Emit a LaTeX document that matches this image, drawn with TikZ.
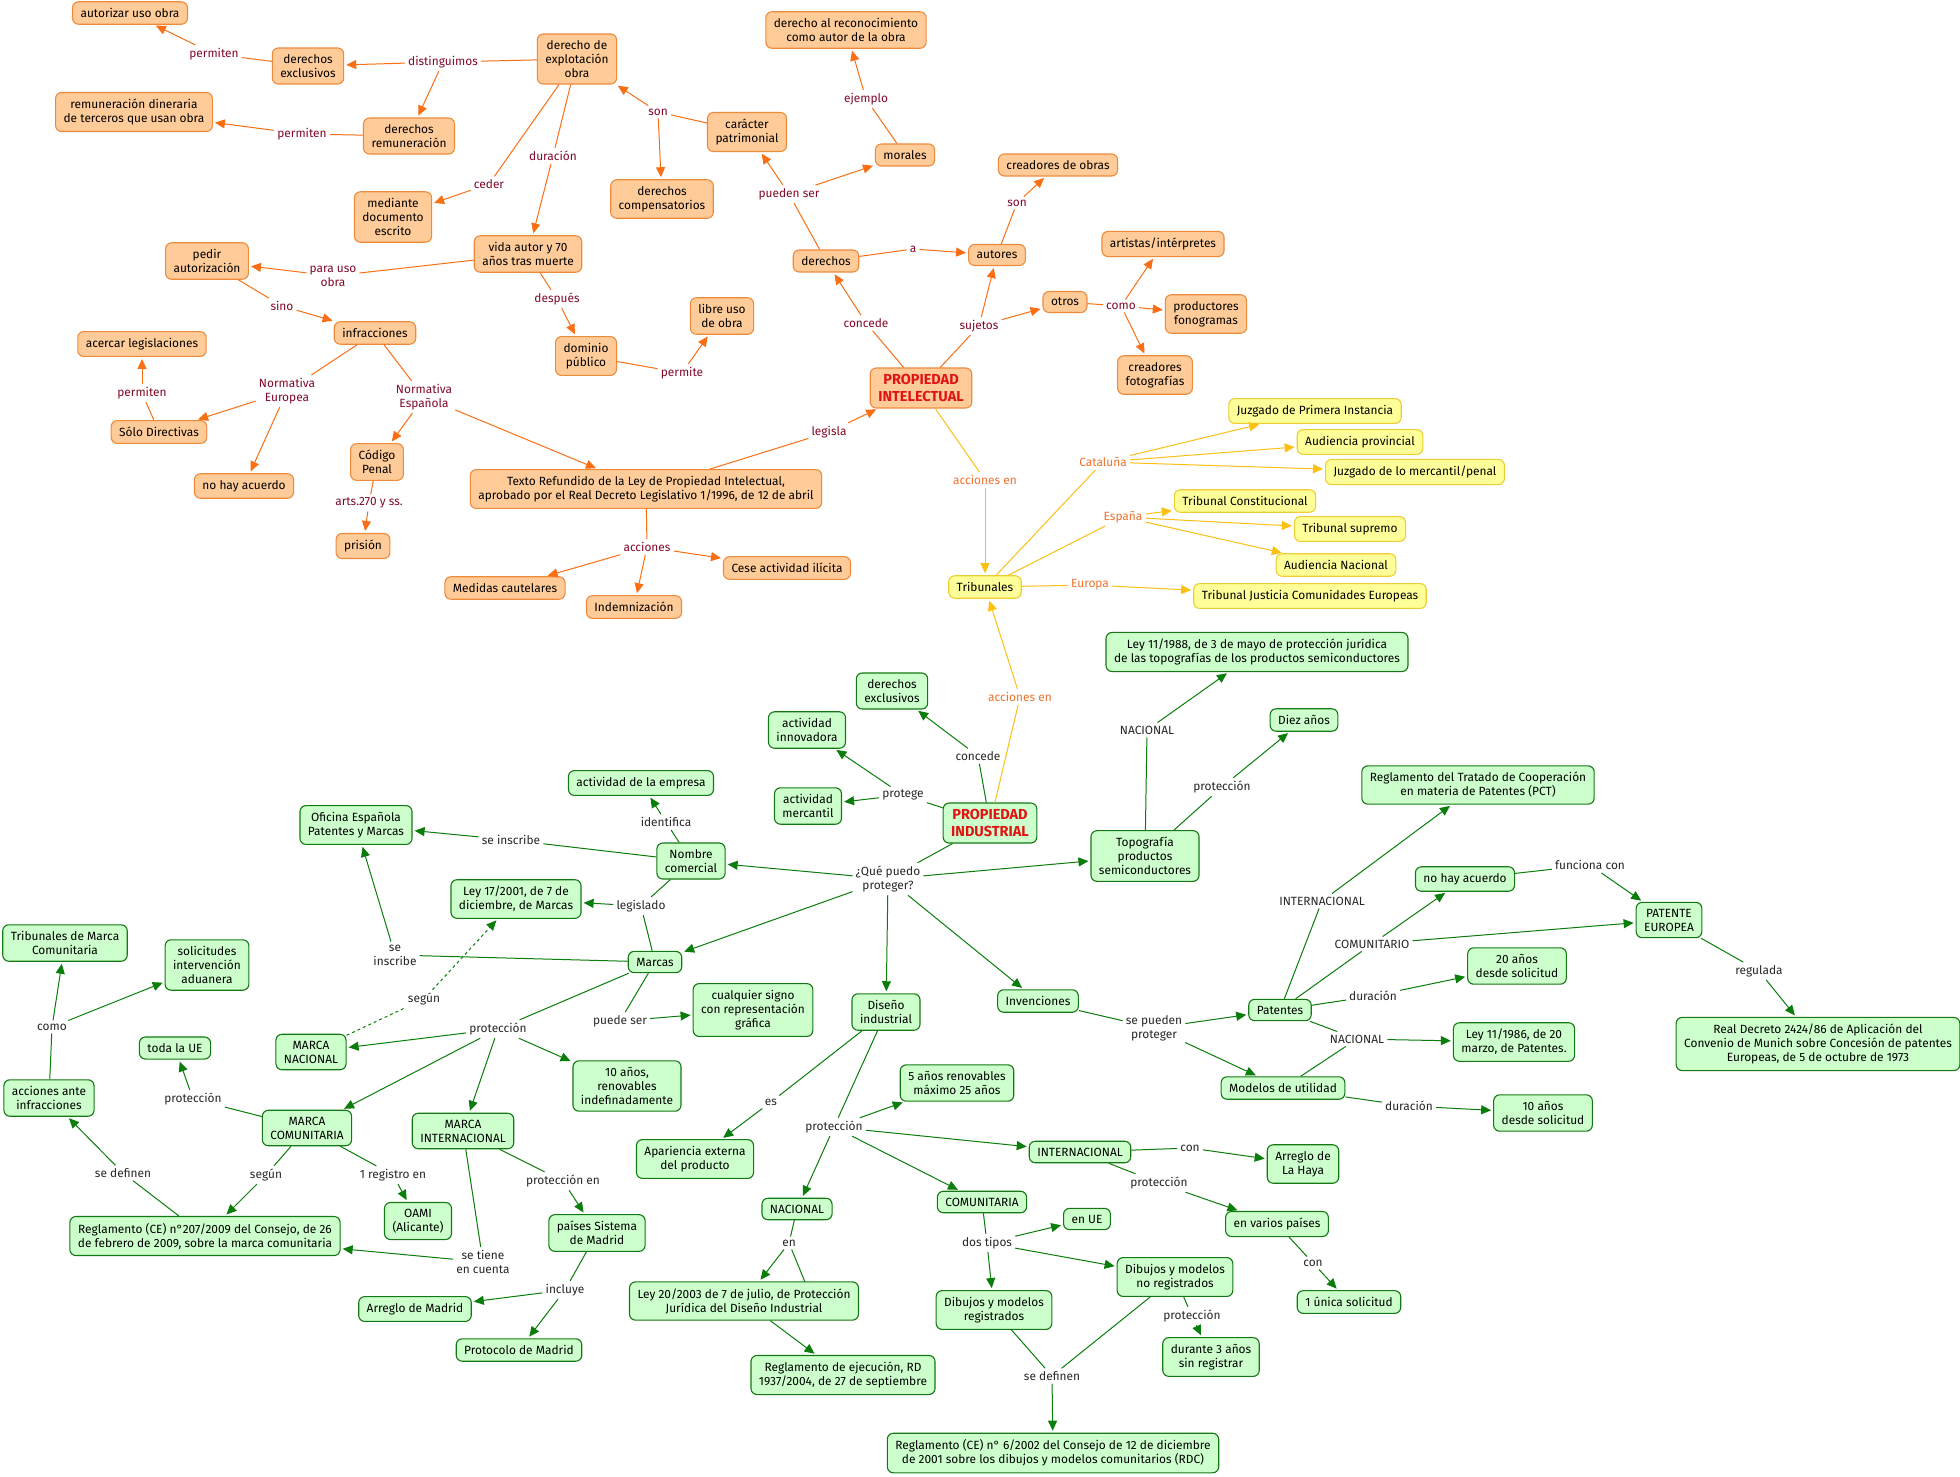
\documentclass[tikz,border=0pt]{standalone}
\usepackage{fontspec}
\setmainfont{Fira Sans}
\usetikzlibrary{arrows.meta}
\definecolor{ofill}{RGB}{255,204,153}
\definecolor{odraw}{RGB}{238,138,60}
\definecolor{oarrow}{RGB}{250,110,20}
\definecolor{otext}{RGB}{130,10,40}
\definecolor{yfill}{RGB}{255,255,153}
\definecolor{ydraw}{RGB}{238,205,50}
\definecolor{yarrow}{RGB}{252,192,20}
\definecolor{ytext}{RGB}{238,115,45}
\definecolor{gfill}{RGB}{204,255,204}
\definecolor{gdraw}{RGB}{20,120,20}
\definecolor{garrow}{RGB}{10,125,10}
\definecolor{gtext}{RGB}{40,40,40}
\definecolor{ptitle}{RGB}{225,20,20}
\tikzset{
  box/.style={rounded corners=6pt,align=center,inner xsep=8pt,inner ysep=6.5pt,line width=1.1pt,font=\fontsize{11.9}{14}\selectfont},
  obox/.style={box,draw=odraw,fill=ofill},
  ybox/.style={box,draw=ydraw,fill=yfill},
  gbox/.style={box,draw=gdraw,fill=gfill},
  ptit/.style={font=\fontsize{14.5}{16.5}\selectfont\bfseries,text=ptitle},
  lab/.style={inner sep=3pt,align=center,font=\fontsize{11.9}{14}\selectfont},
  olab/.style={lab,text=otext},
  ylab/.style={lab,text=ytext},
  glab/.style={lab,text=gtext},
  oline/.style={draw=oarrow,line width=1pt},
  yline/.style={draw=yarrow,line width=1pt},
  gline/.style={draw=garrow,line width=1pt},
  oarr/.style={oline,-{Triangle[length=10pt,width=9pt]},shorten >=2pt},
  yarr/.style={yline,-{Triangle[length=10pt,width=9pt]},shorten >=2pt},
  garr/.style={gline,-{Triangle[length=10pt,width=9pt]},shorten >=2pt}
}

\begin{document}
\begin{tikzpicture}[x=1pt,y=-1pt]
  \fill[white] (0,0) rectangle (1960,1476);
  \useasboundingbox (0,0) rectangle (1960,1476);

  % propiedad intelectual
  \node[obox] (autuso) at (130,13) {autorizar uso obra};
  \node[obox] (oderexc) at (308,66) {derechos\\exclusivos};
  \node[obox] (remun) at (134,112) {remuneración dineraria\\de terceros que usan obra};
  \node[obox] (derrem) at (409,136) {derechos\\remuneración};
  \node[obox] (explot) at (577,59) {derecho de\\explotación\\obra};
  \node[obox] (reconoc) at (846,30) {derecho al reconocimiento\\como autor de la obra};
  \node[obox] (patrim) at (747,132) {carácter\\patrimonial};
  \node[obox] (morales) at (905,155) {morales};
  \node[obox] (compens) at (662,199) {derechos\\compensatorios};
  \node[obox] (docesc) at (393,217) {mediante\\documento\\escrito};
  \node[obox] (vida) at (528,254) {vida autor y 70\\años tras muerte};
  \node[obox] (pedir) at (207,261) {pedir\\autorización};
  \node[obox] (derechos) at (826,261) {derechos};
  \node[obox] (autores) at (997,255) {autores};
  \node[obox] (creaobras) at (1058,165) {creadores de obras};
  \node[obox] (artistas) at (1163,244) {artistas/intérpretes};
  \node[obox] (otros) at (1065,302) {otros};
  \node[obox] (fonog) at (1206,314) {productores\\fonogramas};
  \node[obox] (fotog) at (1155,375) {creadores\\fotografías};
  \node[obox] (libre) at (722,316) {libre uso\\de obra};
  \node[obox] (dominio) at (586,356) {dominio\\público};
  \node[obox] (infrac) at (375,333) {infracciones};
  \node[obox] (acercar) at (142,344) {acercar legislaciones};
  \node[obox,ptit] (pintel) at (921,388) {PROPIEDAD\\INTELECTUAL};
  \node[obox] (soloDir) at (159,432) {Sólo Directivas};
  \node[obox] (onohay) at (244,486) {no hay acuerdo};
  \node[obox] (codpenal) at (377,462) {Código\\Penal};
  \node[obox] (texto) at (646,489) {Texto Refundido de la Ley de Propiedad Intelectual,\\aprobado por el Real Decreto Legislativo 1/1996, de 12 de abril};
  \node[obox] (prision) at (363,546) {prisión};
  \node[obox] (medidas) at (505,588) {Medidas cautelares};
  \node[obox] (indem) at (634,607) {Indemnización};
  \node[obox] (cese) at (787,568) {Cese actividad ilícita};

  \node[olab] (l1) at (214,54) {permiten};
  \node[olab] (l2) at (443,62) {distinguimos};
  \node[olab] (l3) at (302,134) {permiten};
  \node[olab] (l4) at (489,184) {ceder};
  \node[olab] (l5) at (553,156) {duración};
  \node[olab] (l6) at (658,112) {son};
  \node[olab] (l7) at (866,99) {ejemplo};
  \node[olab] (l8) at (789,194) {pueden ser};
  \node[olab] (l9) at (913,249) {a};
  \node[olab] (l10) at (1017,203) {son};
  \node[olab] (l11) at (866,323) {concede};
  \node[olab] (l12) at (979,326) {sujetos};
  \node[olab] (l13) at (1121,306) {como};
  \node[olab] (l14) at (333,276) {para uso\\obra};
  \node[olab] (l15) at (282,306) {sino};
  \node[olab] (l16) at (557,299) {después};
  \node[olab] (l17) at (682,373) {permite};
  \node[olab] (l18) at (287,391) {Normativa\\Europea};
  \node[olab] (l19) at (424,397) {Normativa\\Española};
  \node[olab] (l20) at (142,393) {permiten};
  \node[olab] (l21) at (369,503) {arts.270 y ss.};
  \node[olab] (l22) at (829,432) {legisla};
  \node[olab] (l23) at (647,547) {acciones};

  \draw[oline] (oderexc) -- (l1); \draw[oarr] (l1) -- (autuso);
  \draw[oline] (explot) -- (l2);
  \foreach \t in {oderexc,derrem} \draw[oarr] (l2) -- (\t);
  \draw[oline] (derrem) -- (l3); \draw[oarr] (l3) -- (remun);
  \draw[oline] (explot) -- (l4); \draw[oarr] (l4) -- (docesc);
  \draw[oline] (explot) -- (l5); \draw[oarr] (l5) -- (vida);
  \draw[oline] (patrim) -- (l6);
  \foreach \t in {explot,compens} \draw[oarr] (l6) -- (\t);
  \draw[oline] (morales) -- (l7); \draw[oarr] (l7) -- (reconoc);
  \draw[oline] (derechos) -- (l8);
  \foreach \t in {patrim,morales} \draw[oarr] (l8) -- (\t);
  \draw[oline] (derechos) -- (l9); \draw[oarr] (l9) -- (autores);
  \draw[oline] (autores) -- (l10); \draw[oarr] (l10) -- (creaobras);
  \draw[oline] (pintel) -- (l11); \draw[oarr] (l11) -- (derechos);
  \draw[oline] (pintel) -- (l12);
  \foreach \t in {autores,otros} \draw[oarr] (l12) -- (\t);
  \draw[oline] (otros) -- (l13);
  \foreach \t in {artistas,fonog,fotog} \draw[oarr] (l13) -- (\t);
  \draw[oline] (vida) -- (l14); \draw[oarr] (l14) -- (pedir);
  \draw[oline] (pedir) -- (l15); \draw[oarr] (l15) -- (infrac);
  \draw[oline] (vida) -- (l16); \draw[oarr] (l16) -- (dominio);
  \draw[oline] (dominio) -- (l17); \draw[oarr] (l17) -- (libre);
  \draw[oline] (infrac) -- (l18);
  \foreach \t in {soloDir,onohay} \draw[oarr] (l18) -- (\t);
  \draw[oline] (infrac) -- (l19);
  \foreach \t in {codpenal,texto} \draw[oarr] (l19) -- (\t);
  \draw[oline] (soloDir) -- (l20); \draw[oarr] (l20) -- (acercar);
  \draw[oline] (codpenal) -- (l21); \draw[oarr] (l21) -- (prision);
  \draw[oline] (texto) -- (l22); \draw[oarr] (l22) -- (pintel);
  \draw[oline] (texto) -- (l23);
  \foreach \t in {medidas,indem,cese} \draw[oarr] (l23) -- (\t);

  % tribunales
  \node[ybox] (tribu) at (985,587) {Tribunales};
  \node[ybox] (jpi) at (1315,411) {Juzgado de Primera Instancia};
  \node[ybox] (aprov) at (1360,442) {Audiencia provincial};
  \node[ybox] (jmerc) at (1415,472) {Juzgado de lo mercantil/penal};
  \node[ybox] (tconst) at (1245,501) {Tribunal Constitucional};
  \node[ybox] (tsup) at (1350,529) {Tribunal supremo};
  \node[ybox] (anac) at (1336,565) {Audiencia Nacional};
  \node[ybox] (tjce) at (1310,596) {Tribunal Justicia Comunidades Europeas};
  \node[ylab] (ly1) at (985,480) {acciones en};
  \node[ylab] (ly2) at (1103,462) {Cataluña};
  \node[ylab] (ly3) at (1123,517) {España};
  \node[ylab] (ly4) at (1090,585) {Europa};
  \node[ylab] (ly5) at (1020,697) {acciones en};

  \draw[yline] (pintel) -- (ly1); \draw[yarr] (ly1) -- (tribu);
  \draw[yline] (tribu) -- (ly2);
  \foreach \t in {jpi,aprov,jmerc} \draw[yarr] (ly2) -- (\t);
  \draw[yline] (tribu) -- (ly3);
  \foreach \t in {tconst,tsup,anac} \draw[yarr] (ly3) -- (\t);
  \draw[yline] (tribu) -- (ly4); \draw[yarr] (ly4) -- (tjce);

  % propiedad industrial
  \node[gbox,ptit] (pindus) at (990,823) {PROPIEDAD\\INDUSTRIAL};
  \node[gbox] (gderexc) at (892,691) {derechos\\exclusivos};
  \node[gbox] (innov) at (807,730) {actividad\\innovadora};
  \node[gbox] (merc) at (808,806) {actividad\\mercantil};
  \node[gbox] (empresa) at (641,783) {actividad de la empresa};
  \node[gbox] (nombre) at (691,861) {Nombre\\comercial};
  \node[gbox] (oepm) at (356,825) {Oficina Española\\Patentes y Marcas};
  \node[gbox] (ley17) at (516,899) {Ley 17/2001, de 7 de\\diciembre, de Marcas};
  \node[gbox] (marcas) at (655,962) {Marcas};
  \node[gbox] (tmc) at (65,943) {Tribunales de Marca\\Comunitaria};
  \node[gbox] (aduana) at (207,965) {solicitudes\\intervención\\aduanera};
  \node[gbox] (topo) at (1145,856) {Topografía\\productos\\semiconductores};
  \node[gbox] (ley11) at (1257,652) {Ley 11/1988, de 3 de mayo de protección jurídica\\de las topografías de los productos semiconductores};
  \node[gbox] (diez) at (1304,720) {Diez años};
  \node[gbox] (pct) at (1478,785) {Reglamento del Tratado de Cooperación\\en materia de Patentes (PCT)};
  \node[gbox] (gnohay) at (1465,879) {no hay acuerdo};
  \node[gbox] (pateu) at (1669,920) {PATENTE\\EUROPEA};
  \node[gbox] (rd2424) at (1818,1044) {Real Decreto 2424/86 de Aplicación del\\Convenio de Munich sobre Concesión de patentes\\Europeas, de 5 de octubre de 1973};
  \node[gbox] (veinte) at (1517,966) {20 años\\desde solicitud};
  \node[gbox] (ley1186) at (1514,1042) {Ley 11/1986, de 20\\marzo, de Patentes.};
  \node[gbox] (patentes) at (1280,1010) {Patentes};
  \node[gbox] (invenc) at (1038,1001) {Invenciones};
  \node[gbox] (modelos) at (1283,1088) {Modelos de utilidad};
  \node[gbox] (diezsol) at (1543,1113) {10 años\\desde solicitud};
  \node[gbox] (diseno) at (886,1012) {Diseño\\industrial};
  \node[gbox] (signo) at (753,1010) {cualquier signo\\con representación\\gráfica};
  \node[gbox] (renov) at (627,1086) {10 años,\\renovables\\indefinadamente};
  \node[gbox] (mnac) at (311,1052) {MARCA\\NACIONAL};
  \node[gbox] (todaue) at (175,1048) {toda la UE};
  \node[gbox] (accinf) at (49,1098) {acciones ante\\infracciones};
  \node[gbox] (mcom) at (307,1128) {MARCA\\COMUNITARIA};
  \node[gbox] (mint) at (463,1131) {MARCA\\INTERNACIONAL};
  \node[gbox] (reg207) at (205,1236) {Reglamento (CE) n°207/2009 del Consejo, de 26\\de febrero de 2009, sobre la marca comunitaria};
  \node[gbox] (oami) at (418,1221) {OAMI\\(Alicante)};
  \node[gbox] (paises) at (597,1233) {países Sistema\\de Madrid};
  \node[gbox] (amadrid) at (415,1309) {Arreglo de Madrid};
  \node[gbox] (pmadrid) at (519,1350) {Protocolo de Madrid};
  \node[gbox] (aparien) at (695,1159) {Apariencia externa\\del producto};
  \node[gbox] (cinco) at (957,1083) {5 años renovables\\máximo 25 años};
  \node[gbox] (dnac) at (797,1209) {NACIONAL};
  \node[gbox] (dcom) at (982,1202) {COMUNITARIA};
  \node[gbox] (dint) at (1080,1152) {INTERNACIONAL};
  \node[gbox] (lahaya) at (1303,1164) {Arreglo de\\La Haya};
  \node[gbox] (varios) at (1277,1224) {en varios países};
  \node[gbox] (unica) at (1349,1302) {1 única solicitud};
  \node[gbox] (enue) at (1087,1219) {en UE};
  \node[gbox] (noreg) at (1175,1277) {Dibujos y modelos\\no registrados};
  \node[gbox] (reg) at (994,1310) {Dibujos y modelos\\registrados};
  \node[gbox] (tresanos) at (1211,1357) {durante 3 años\\sin registrar};
  \node[gbox] (rdc) at (1053,1453) {Reglamento (CE) n° 6/2002 del Consejo de 12 de diciembre\\de 2001 sobre los dibujos y modelos comunitarios (RDC)};
  \node[gbox] (ley2003) at (744,1301) {Ley 20/2003 de 7 de julio, de Protección\\Jurídica del Diseño Industrial};
  \node[gbox] (rd1937) at (843,1375) {Reglamento de ejecución, RD\\1937/2004, de 27 de septiembre};
  \coordinate (ley2003top) at (805,1282);

  \node[glab] (g1) at (978,756) {concede};
  \node[glab] (g2) at (903,795) {protege};
  \node[glab] (g3) at (888,879) {¿Qué puedo\\proteger?};
  \node[glab] (g4) at (666,822) {identifica};
  \node[glab] (g5) at (511,840) {se inscribe};
  \node[glab] (g6) at (641,906) {legislado};
  \node[glab] (g7) at (395,955) {se\\inscribe};
  \node[glab] (g8) at (424,999) {según};
  \node[glab] (g9) at (1147,730) {NACIONAL};
  \node[glab] (g10) at (1222,787) {protección};
  \node[glab] (g11) at (1322,901) {INTERNACIONAL};
  \node[glab] (g12) at (1372,944) {COMUNITARIO};
  \node[glab] (g13) at (1590,865) {funciona con};
  \node[glab] (g14) at (1759,971) {regulada};
  \node[glab] (g15) at (1373,996) {duración};
  \node[glab] (g16) at (1357,1039) {NACIONAL};
  \node[glab] (g17) at (1154,1028) {se pueden\\proteger};
  \node[glab] (g18) at (1409,1106) {duración};
  \node[glab] (g19) at (498,1029) {protección};
  \node[glab] (g20) at (620,1021) {puede ser};
  \node[glab] (g21) at (52,1027) {como};
  \node[glab] (g22) at (193,1099) {protección};
  \node[glab] (g23) at (123,1173) {se definen};
  \node[glab] (g24) at (266,1175) {según};
  \node[glab] (g25) at (393,1175) {1 registro en};
  \node[glab] (g26) at (483,1262) {se tiene\\en cuenta};
  \node[glab] (g27) at (563,1181) {protección en};
  \node[glab] (g28) at (565,1290) {incluye};
  \node[glab] (g29) at (771,1102) {es};
  \node[glab] (g30) at (834,1127) {protección};
  \node[glab] (g31) at (789,1243) {en};
  \node[glab] (g32) at (1190,1148) {con};
  \node[glab] (g33) at (1159,1183) {protección};
  \node[glab] (g34) at (1313,1263) {con};
  \node[glab] (g35) at (987,1243) {dos tipos};
  \node[glab] (g36) at (1192,1316) {protección};
  \node[glab] (g37) at (1052,1376) {se definen};

  \draw[yline] (pindus) -- (ly5); \draw[yarr] (ly5) -- (tribu);
  \draw[gline] (pindus) -- (g1); \draw[garr] (g1) -- (gderexc);
  \draw[gline] (pindus) -- (g2);
  \foreach \t in {innov,merc} \draw[garr] (g2) -- (\t);
  \draw[gline] (pindus) -- (g3);
  \foreach \t in {nombre,marcas,diseno,invenc,topo} \draw[garr] (g3) -- (\t);
  \draw[gline] (nombre) -- (g4); \draw[garr] (g4) -- (empresa);
  \draw[gline] (nombre) -- (g5); \draw[garr] (g5) -- (oepm);
  \draw[gline] (nombre) -- (g6); \draw[gline] (marcas) -- (g6);
  \draw[garr] (g6) -- (ley17);
  \draw[gline] (marcas) -- (g7); \draw[garr] (g7) -- (oepm);
  \draw[gline,dashed] (mnac) -- (g8); \draw[garr,dashed] (g8) -- (ley17);
  \draw[gline] (topo) -- (g9); \draw[garr] (g9) -- (ley11);
  \draw[gline] (topo) -- (g10); \draw[garr] (g10) -- (diez);
  \draw[gline] (patentes) -- (g11); \draw[garr] (g11) -- (pct);
  \draw[gline] (patentes) -- (g12);
  \foreach \t in {gnohay,pateu} \draw[garr] (g12) -- (\t);
  \draw[gline] (gnohay) -- (g13); \draw[garr] (g13) -- (pateu);
  \draw[gline] (pateu) -- (g14); \draw[garr] (g14) -- (rd2424);
  \draw[gline] (patentes) -- (g15); \draw[garr] (g15) -- (veinte);
  \draw[gline] (patentes) -- (g16); \draw[gline] (modelos) -- (g16);
  \draw[garr] (g16) -- (ley1186);
  \draw[gline] (invenc) -- (g17);
  \foreach \t in {patentes,modelos} \draw[garr] (g17) -- (\t);
  \draw[gline] (modelos) -- (g18); \draw[garr] (g18) -- (diezsol);
  \draw[gline] (marcas) -- (g19);
  \foreach \t in {mnac,mcom,mint,renov} \draw[garr] (g19) -- (\t);
  \draw[gline] (marcas) -- (g20); \draw[garr] (g20) -- (signo);
  \draw[gline] (accinf) -- (g21);
  \foreach \t in {tmc,aduana} \draw[garr] (g21) -- (\t);
  \draw[gline] (mcom) -- (g22); \draw[garr] (g22) -- (todaue);
  \draw[gline] (reg207) -- (g23); \draw[garr] (g23) -- (accinf);
  \draw[gline] (mcom) -- (g24); \draw[garr] (g24) -- (reg207);
  \draw[gline] (mcom) -- (g25); \draw[garr] (g25) -- (oami);
  \draw[gline] (mint) -- (g26); \draw[garr] (g26) -- (reg207);
  \draw[gline] (mint) -- (g27); \draw[garr] (g27) -- (paises);
  \draw[gline] (paises) -- (g28);
  \foreach \t in {amadrid,pmadrid} \draw[garr] (g28) -- (\t);
  \draw[gline] (diseno) -- (g29); \draw[garr] (g29) -- (aparien);
  \draw[gline] (diseno) -- (g30);
  \foreach \t in {cinco,dnac,dcom,dint} \draw[garr] (g30) -- (\t);
  \draw[gline] (dnac) -- (g31); \draw[gline] (ley2003top) -- (g31);
  \draw[garr] (g31) -- (ley2003);
  \draw[garr] (ley2003) -- (rd1937);
  \draw[gline] (dint) -- (g32); \draw[garr] (g32) -- (lahaya);
  \draw[gline] (dint) -- (g33); \draw[garr] (g33) -- (varios);
  \draw[gline] (varios) -- (g34); \draw[garr] (g34) -- (unica);
  \draw[gline] (dcom) -- (g35);
  \foreach \t in {enue,reg,noreg} \draw[garr] (g35) -- (\t);
  \draw[gline] (noreg) -- (g36); \draw[garr] (g36) -- (tresanos);
  \draw[gline] (reg) -- (g37); \draw[gline] (noreg) -- (g37);
  \draw[garr] (g37) -- (rdc);
\end{tikzpicture}
\end{document}
